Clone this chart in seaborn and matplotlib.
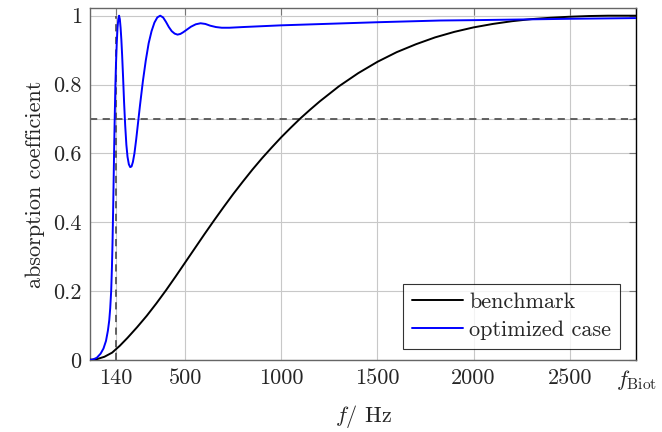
import numpy as np
import pandas as pd
import matplotlib
matplotlib.use('Agg')
import matplotlib.pyplot as plt
import seaborn as sns

# benchmark curve
f_bench = [0, 40, 80, 120, 160, 200, 250, 300, 350, 400, 450, 500, 550, 600, 650,
           700, 750, 800, 850, 900, 950, 1000, 1050, 1100, 1150, 1200, 1300, 1400,
           1500, 1600, 1700, 1800, 1900, 2000, 2100, 2200, 2300, 2400, 2500, 2600,
           2700, 2846]
a_bench = [0, 0.002, 0.009, 0.021, 0.041, 0.064, 0.095, 0.128, 0.164, 0.202, 0.242,
           0.283, 0.324, 0.365, 0.405, 0.444, 0.482, 0.518, 0.553, 0.586, 0.617,
           0.647, 0.675, 0.702, 0.727, 0.751, 0.795, 0.833, 0.866, 0.894, 0.917,
           0.937, 0.953, 0.966, 0.976, 0.984, 0.990, 0.994, 0.997, 0.999, 1.0, 1.0]

# optimized case
f_opt = [5, 20, 40, 60, 75, 88, 98, 105, 110, 115, 119, 122, 125, 128, 131, 134,
         137, 140, 144, 148, 152, 156, 160, 164, 168, 172, 177, 182, 188, 194, 200,
         207, 214, 221, 228, 236, 245, 255, 265, 280, 295, 310, 325, 340, 355, 370,
         385, 400, 415, 430, 445, 460, 475, 490, 510, 530, 555, 580, 605, 630, 660,
         690, 730, 800, 1000, 1500, 1827, 2000, 2500, 2846]
a_opt = [0, 0.001, 0.006, 0.018, 0.033, 0.055, 0.085, 0.115, 0.15, 0.2, 0.27, 0.34,
         0.43, 0.53, 0.63, 0.72, 0.8, 0.86, 0.92, 0.965, 0.99, 1.0, 0.99, 0.965,
         0.93, 0.885, 0.82, 0.75, 0.68, 0.625, 0.59, 0.568, 0.56, 0.562, 0.575, 0.6,
         0.64, 0.69, 0.74, 0.81, 0.87, 0.92, 0.955, 0.98, 0.995, 1.0, 0.995, 0.982,
         0.967, 0.955, 0.948, 0.945, 0.947, 0.952, 0.96, 0.968, 0.975, 0.978, 0.976,
         0.971, 0.967, 0.965, 0.965, 0.967, 0.972, 0.981, 0.986, 0.987, 0.991, 0.993]

x_ticks = [140, 500, 1000, 1500, 2000, 2500, 2846]
x_labels = ['140', '500', '1000', '1500', '2000', '2500', r'$f_{\mathrm{Biot}}$']
y_ticks = [0, 0.2, 0.4, 0.6, 0.7, 0.8, 1.0]
y_labels = ['0', '0.2', '0.4', '0.6', '', '0.8', '1']

sns.set_style('white')
plt.rcParams['font.family'] = ['cmr10', 'DejaVu Serif']
plt.rcParams['mathtext.fontset'] = 'cm'
plt.rcParams['axes.formatter.use_mathtext'] = True

fig = plt.figure(figsize=(6.62, 4.32), dpi=100)
ax = fig.add_axes([0.136, 0.167, 0.825, 0.815])

bench = pd.DataFrame({'f': f_bench, 'a': a_bench})
opt = pd.DataFrame({'f': f_opt, 'a': a_opt})

ax.grid(True, color='#c8c8c8', linewidth=0.8, zorder=0)
ax.axhline(0.7, color='#555555', linestyle=(0, (4, 3)), linewidth=1.3, zorder=2)
ax.plot([140, 140], [0, 1], color='#555555', linestyle=(0, (4, 3)), linewidth=1.3, zorder=2)

sns.lineplot(data=bench, x='f', y='a', color='black', linewidth=1.4, label='benchmark', ax=ax, zorder=3)
sns.lineplot(data=opt, x='f', y='a', color='#0000ff', linewidth=1.4, label='optimized case', ax=ax, zorder=4)

ax.set_xlim(5, 2846)
ax.set_ylim(0, 1.023)
ax.set_xticks(x_ticks)
ax.set_xticklabels(x_labels)
ax.set_yticks(y_ticks)
ax.set_yticklabels(y_labels)
ax.tick_params(direction='in', top=True, right=True, length=5, color='#777777',
               labelsize=16, pad=6)
for s in ax.spines.values():
    s.set_color('#666666')
    s.set_linewidth(1.0)
ax.spines['right'].set_color('black')

ax.set_xlabel(r'$f$/ Hz', fontsize=16, labelpad=8)
ax.set_ylabel('absorption coefficient', fontsize=16, labelpad=6)

leg = ax.legend(loc='lower right', bbox_to_anchor=(0.971, 0.031), borderaxespad=0,
                fontsize=16, frameon=True, fancybox=False, edgecolor='black',
                handlelength=2.3, borderpad=0.4, labelspacing=0.38, handletextpad=0.3)
leg.get_frame().set_linewidth(0.8)

fig.savefig('out.png', dpi=100)
